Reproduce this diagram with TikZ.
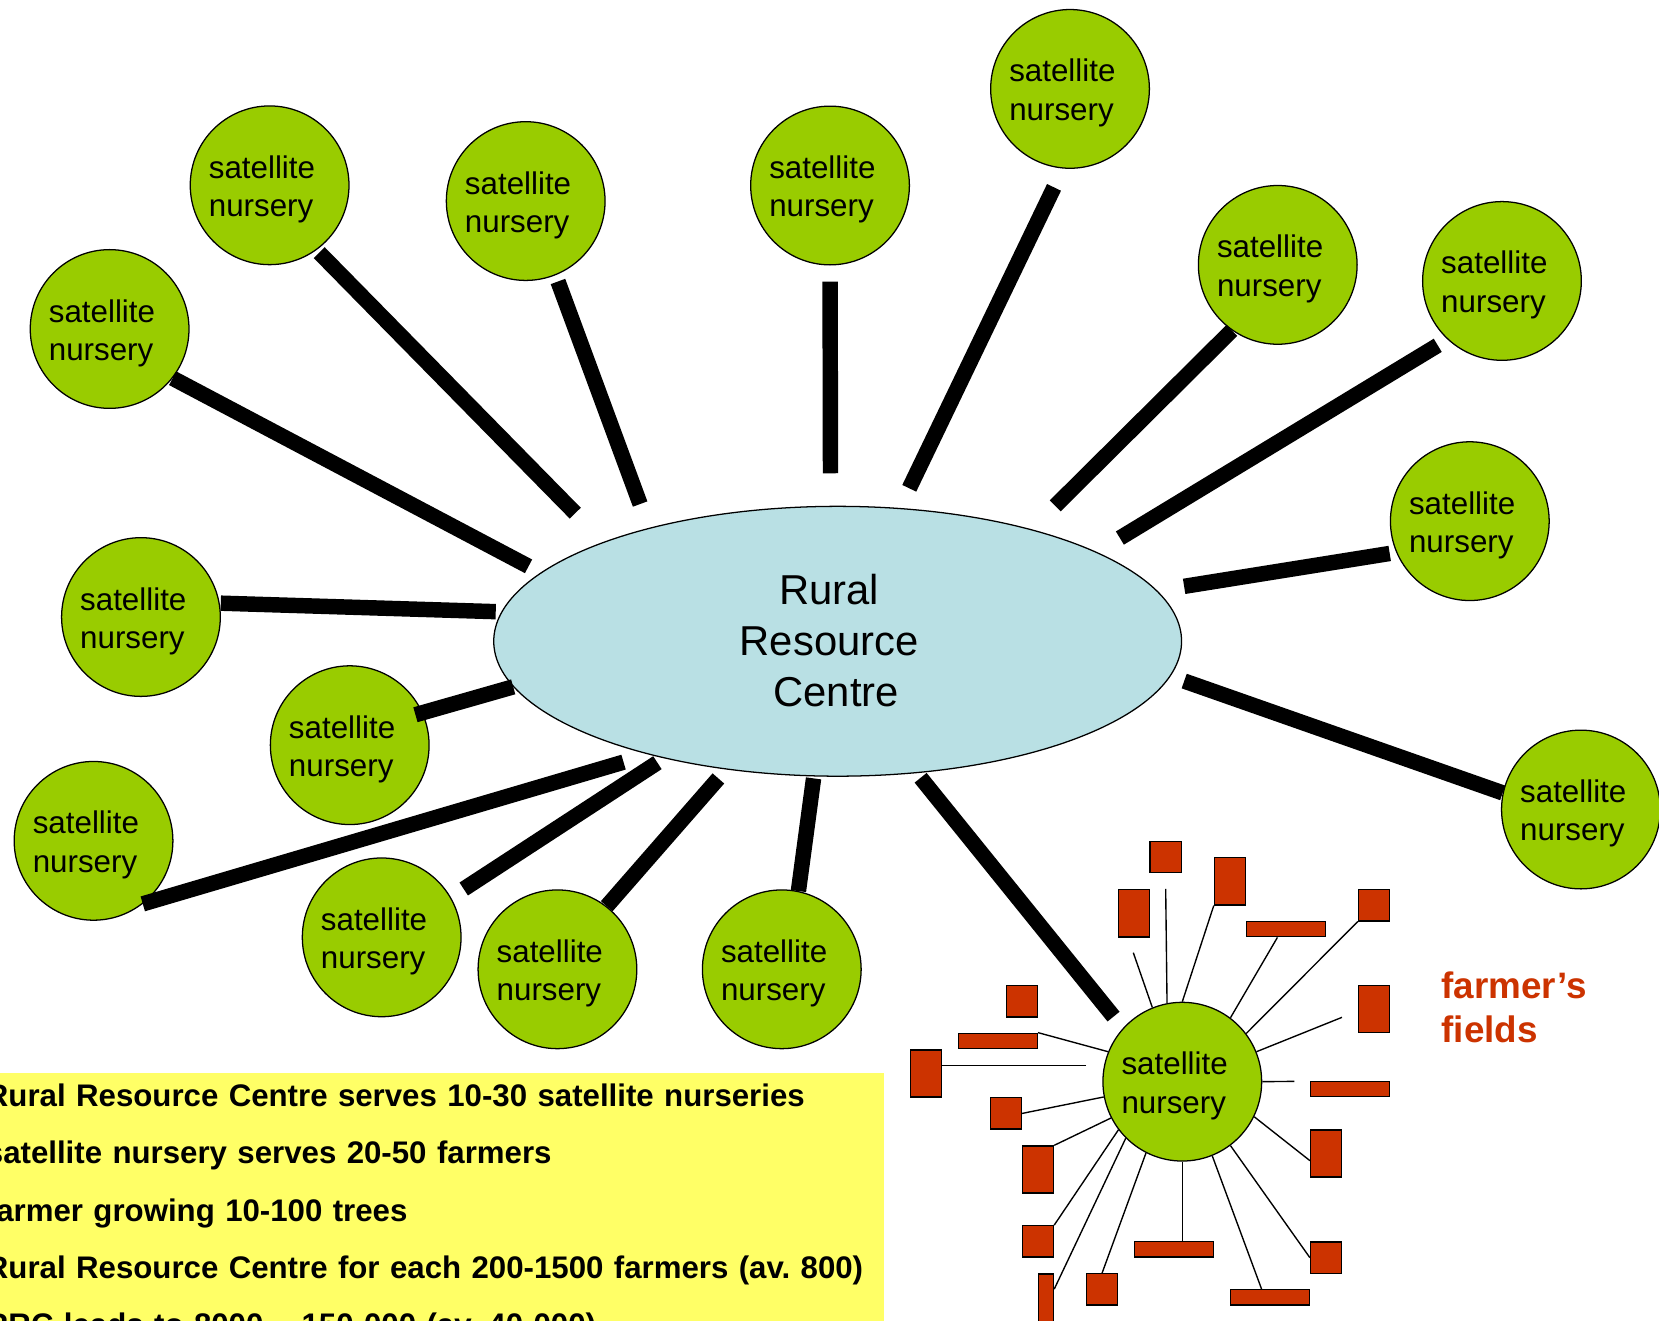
\documentclass[tikz,border=0pt]{standalone}
\usepackage{fontspec}
\setmainfont{Liberation Sans}
\usetikzlibrary{shapes.geometric}
\frenchspacing

\definecolor{nurserygreen}{HTML}{99CC00}
\definecolor{centreblue}{RGB}{185,224,228}
\definecolor{fieldred}{HTML}{CC3300}
\definecolor{noteyellow}{HTML}{FFFF66}

\tikzset{
  nursery/.style={circle, draw, line width=1.2pt, fill=nurserygreen,
                  minimum size=150pt, inner sep=0pt,
                  text width=114.8pt, align=left,
                  text height=22pt, text depth=35.2pt,
                  font=\fontsize{29.6pt}{36.2pt}\selectfont},
  centre/.style={ellipse, draw, line width=1.2pt, fill=centreblue,
                 minimum width=650pt, minimum height=255pt, inner sep=0pt,
                 text width=220pt, align=center,
                 text height=28pt, text depth=96.6pt,
                 font=\fontsize{39.5pt}{48pt}\selectfont},
  spoke/.style={line width=14.6pt},
  fieldbox/.style={rectangle, draw, line width=1.2pt, fill=fieldred, inner sep=0pt},
  fieldsq/.style={fieldbox, minimum width=29.5pt, minimum height=29.5pt},
  fieldtall/.style={fieldbox, minimum width=29.5pt, minimum height=44.5pt},
  fieldwide/.style={fieldbox, minimum width=74.5pt, minimum height=14.5pt},
  fieldnarrow/.style={fieldbox, minimum width=14.5pt, minimum height=74.5pt},
  fieldlink/.style={line width=1.3pt},
  notes/.style={inner sep=0pt, text width=880pt, align=left,
                font=\bfseries\fontsize{29.5pt}{54.1pt}\selectfont},
  fieldnote/.style={inner sep=0pt, text width=200pt, align=left, text=fieldred,
                    font=\bfseries\fontsize{34.8pt}{42pt}\selectfont},
}

\begin{document}
\begin{tikzpicture}[x=1pt, y=-1pt]
\path[use as bounding box, fill=white] (0,0) rectangle (1567.8,1248.3);

% key figures
\fill[noteyellow] (-5,1013.7) rectangle (835.4,1260);
\node[notes, anchor=base west] (notes) at (-13.5,1045.8)
  {Rural Resource Centre serves 10-30 satellite nurseries\\
   satellite nursery serves 20-50 farmers\\
   farmer growing 10-100 trees\\
   Rural Resource Centre for each 200-1500 farmers (av. 800)\\
   RRC leads to 8000 – 150 000 (av. 40 000)};

\node[centre] (rrc) at (791.6,606)
  {\hspace*{-16pt}Rural\\\hspace*{-16pt}Resource\\\hspace*{-16pt}~Centre};

\foreach \n/\x/\y in {c1/254.8/175.1, c2/496.8/190, c3/784.4/175.3,
                      c4/1011.2/84, c5/1207.5/250.3, c6/1419.4/265.5,
                      c7/103.6/310.9, c8/1389/492.5, c9/133.2/583.1,
                      c10/330.5/704.2, c11/88.4/794.6, c12/360.7/885.8,
                      c13/526.8/916, c14/738.8/916, c15/1494/765,
                      c16/1117.3/1022.2}
  \node[nursery] (\n) at (\x,\y) {satellite\\nursery};

\foreach \n/\a/\b/\ga/\gb in {c1/-54.8/157.9/3.5/38, c2/-68.4/149.6/6.3/24,
                              c3/-90/93.3/15.3/30.7, c4/-95.8/65/19.7/20.6,
                              c5/-125.8/30/0/31.4, c6/-133.3/19.2/10.7/25.4,
                              c7/-38.5/167.5/0/12.8, c8/-157/9.3/6.2/25.7,
                              c9/10.9/175.9/1/5.3, c10/24.8/-172.7/-7.25/0,
                              c11/-52.4/-149.3/0/25, c12/30.5/-146.9/14.4/7.5,
                              c13/52.6/-131/0/11.2, c14/78.2/-100.1/0/1.8,
                              c15/168.7/-6.3/0/13.7, c16/138/-59/14/5.6}
  \draw[spoke, shorten <=\ga pt, shorten >=\gb pt] (\n.\a) -- (rrc.\b);

% farmer's fields round the bottom nursery
\foreach \n/\s/\x/\y in {f1/fieldsq/1101.5/810, f2/fieldtall/1162.4/832.9,
                         f3/fieldtall/1071.5/863.1, f4/fieldwide/1215.4/878,
                         f5/fieldsq/1298.5/855.5, f6/fieldtall/1298.5/953.6,
                         f7/fieldsq/965.9/946.2, f8/fieldwide/943.1/983.7,
                         f9/fieldtall/875/1014.5, f10/fieldsq/950.6/1052.2,
                         f11/fieldtall/980.9/1105.2, f12/fieldwide/1276/1029.2,
                         f13/fieldtall/1253.2/1090, f14/fieldsq/980.9/1173.1,
                         f15/fieldwide/1109.3/1180.6, f16/fieldsq/1253.2/1188.5,
                         f17/fieldnarrow/988.4/1241.1, f18/fieldsq/1041.5/1218.4,
                         f19/fieldwide/1200.4/1226}
  \node[\s] (\n) at (\x,\y) {};

\coordinate (t1) at (1101.6,840.1);
\coordinate (t2) at (1071,900.3);
\coordinate (t6) at (1268.2,961.4);
\coordinate (t7) at (1223.2,1021.9);
\coordinate (t17) at (1026.4,1006.7);

\foreach \a/\b in {101.7/t1, 112.2/t2, 22/t6, 0/t7, 90/f2.south west,
                   37.7/f5.south west, -53.2/f16.west, -117/f18.north,
                   -143.3/f14.north east, -153.8/f11.north east,
                   -169/f10.east, 158/f8.north east}
  \draw[fieldlink] (c16.\a) -- (\b);
\draw[fieldlink] (c16.53.6) -- ([xshift=-8.2pt]f4.south);
\draw[fieldlink] (c16.-26.4) -- ([yshift=-6.8pt]f13.west);
\draw[fieldlink] (c16.-68.2) -- ([xshift=-8.2pt]f19.north);
\draw[fieldlink] (c16.south) -- (c16.south |- f15.north);
\draw[fieldlink] (c16.-135.1) -- ([yshift=-15pt]f17.north east);
\draw[fieldlink] (t17) -- ([yshift=7.8pt]f9.east);

\node[fieldnote, anchor=base west] (fields) at (1362.1,943.4) {farmer’s\\fields};
\end{tikzpicture}
\end{document}
